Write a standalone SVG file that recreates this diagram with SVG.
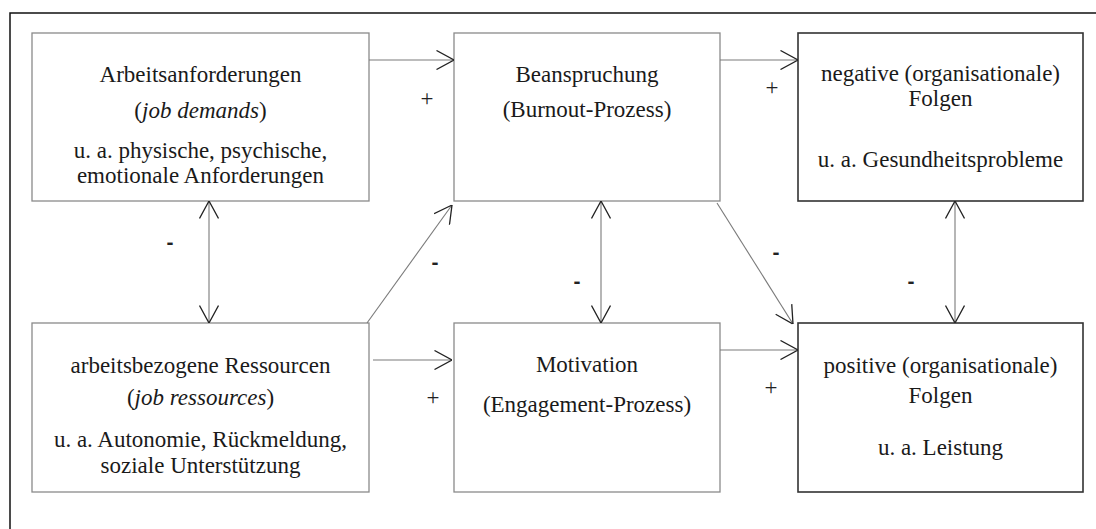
<svg xmlns="http://www.w3.org/2000/svg" width="1096" height="529" viewBox="0 0 1096 529">
  <style>
    .box { fill: #fff; stroke: #8a8a8a; stroke-width: 1.3; }
    .box.dark { stroke: #333; stroke-width: 1.6; }
    .lbl { font-family: "Liberation Serif", "Times New Roman", serif; font-size: 23px; fill: #1a1a1a; text-anchor: middle; }
    .it { font-style: italic; }
    .sign { font-family: "Liberation Serif", "Times New Roman", serif; font-size: 23px; fill: #222; text-anchor: middle; }
    .neg { font-family: "Liberation Sans", Arial, sans-serif; font-size: 21px; font-weight: bold; fill: #222; text-anchor: middle; }
    .conn { stroke: #7a7a7a; stroke-width: 1.1; fill: none; }
  </style>
  <defs>
    <marker id="head" viewBox="0 0 18 20" refX="18" refY="10" markerWidth="18" markerHeight="20" markerUnits="userSpaceOnUse" orient="auto-start-reverse">
      <path d="M0.5,0.5 L18,10 L0.5,19.5" fill="none" stroke="#222" stroke-width="1.3"/>
    </marker>
  </defs>
  <rect width="1096" height="529" fill="#fff"/>

  <!-- outer frame -->
  <path d="M10,529 V13 H1096" fill="none" stroke="#111" stroke-width="1.5"/>

  <g id="demands">
    <rect class="box" x="32" y="33" width="337" height="168"/>
    <text class="lbl" x="200.5" y="82">Arbeitsanforderungen</text>
    <text class="lbl" x="200.5" y="118">(<tspan class="it">job demands</tspan>)</text>
    <text class="lbl" x="200.5" y="158">u. a. physische, psychische,</text>
    <text class="lbl" x="200.5" y="183">emotionale Anforderungen</text>
  </g>

  <g id="strain">
    <rect class="box" x="454" y="33" width="266" height="168"/>
    <text class="lbl" x="587" y="82">Beanspruchung</text>
    <text class="lbl" x="587" y="117">(Burnout-Prozess)</text>
  </g>

  <g id="negative">
    <rect class="box dark" x="798" y="33" width="285" height="168"/>
    <text class="lbl" x="940.5" y="81">negative (organisationale)</text>
    <text class="lbl" x="940.5" y="106">Folgen</text>
    <text class="lbl" x="940.5" y="167">u. a. Gesundheitsprobleme</text>
  </g>

  <g id="resources">
    <rect class="box" x="32" y="323" width="337" height="169"/>
    <text class="lbl" x="200.5" y="373">arbeitsbezogene Ressourcen</text>
    <text class="lbl" x="200.5" y="405">(<tspan class="it">job ressources</tspan>)</text>
    <text class="lbl" x="200.5" y="447">u. a. Autonomie, Rückmeldung,</text>
    <text class="lbl" x="200.5" y="473">soziale Unterstützung</text>
  </g>

  <g id="motivation">
    <rect class="box" x="454" y="323" width="266" height="169"/>
    <text class="lbl" x="587" y="372">Motivation</text>
    <text class="lbl" x="587" y="412">(Engagement-Prozess)</text>
  </g>

  <g id="positive">
    <rect class="box dark" x="798" y="323" width="285" height="169"/>
    <text class="lbl" x="940.5" y="373">positive (organisationale)</text>
    <text class="lbl" x="940.5" y="403">Folgen</text>
    <text class="lbl" x="940.5" y="455">u. a. Leistung</text>
  </g>

  <g id="connectors">
    <line class="conn" x1="369" y1="60" x2="454" y2="60" marker-end="url(#head)"/>
    <line class="conn" x1="720" y1="60" x2="798" y2="60" marker-end="url(#head)"/>
    <line class="conn" x1="209" y1="201" x2="209" y2="323" marker-start="url(#head)" marker-end="url(#head)"/>
    <line class="conn" x1="367" y1="323" x2="452" y2="205" marker-end="url(#head)"/>
    <line class="conn" x1="373" y1="360" x2="452" y2="360" marker-end="url(#head)"/>
    <line class="conn" x1="601" y1="201" x2="601" y2="323" marker-start="url(#head)" marker-end="url(#head)"/>
    <line class="conn" x1="717" y1="203" x2="793" y2="324" marker-end="url(#head)"/>
    <line class="conn" x1="720" y1="350" x2="798" y2="350" marker-end="url(#head)"/>
    <line class="conn" x1="955" y1="201" x2="955" y2="323" marker-start="url(#head)" marker-end="url(#head)"/>

    <text class="sign" x="427" y="106">+</text>
    <text class="sign" x="772" y="95">+</text>
    <text class="sign" x="433" y="405">+</text>
    <text class="sign" x="771" y="395">+</text>

    <text class="neg" x="170" y="249">-</text>
    <text class="neg" x="435" y="269">-</text>
    <text class="neg" x="577" y="288">-</text>
    <text class="neg" x="776" y="259">-</text>
    <text class="neg" x="911" y="288">-</text>
  </g>
</svg>
